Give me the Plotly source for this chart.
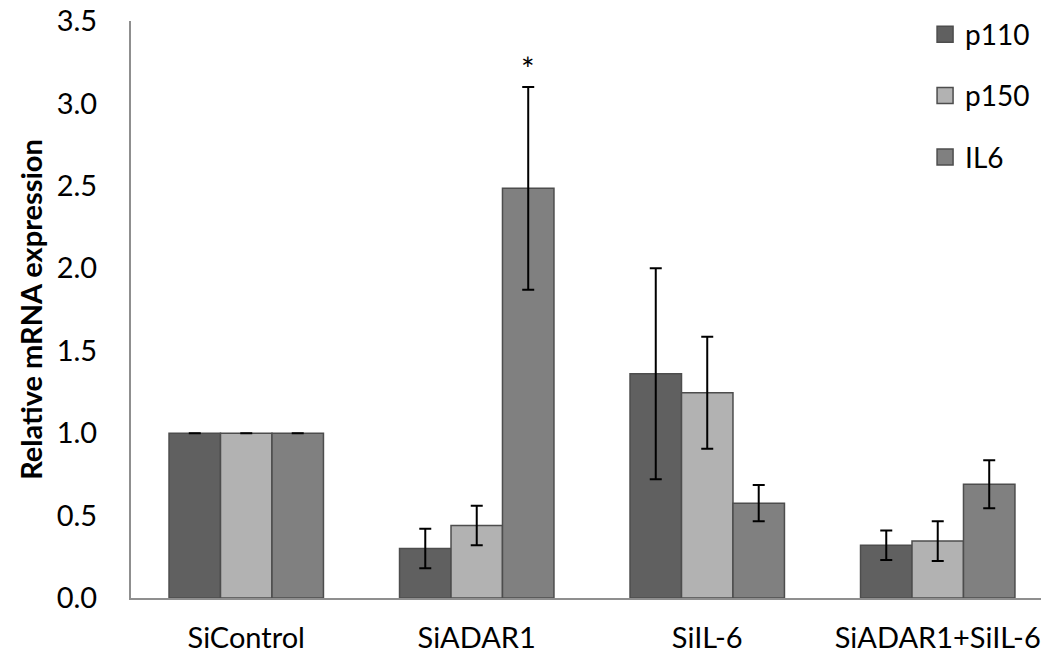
import plotly.graph_objects as go

categories = ["SiControl", "SiADAR1", "SiIL-6", "SiADAR1+SiIL-6"]
series_names = ["p110", "p150", "IL6"]
p110 = [1.0, 0.30, 1.36, 0.32]
p110_err = [0.0, 0.12, 0.64, 0.09]
p150 = [1.0, 0.44, 1.245, 0.345]
p150_err = [0.0, 0.12, 0.34, 0.12]
il6 = [1.0, 2.485, 0.575, 0.69]
il6_err = [0.0, 0.615, 0.11, 0.145]
y_ticks = [0.0, 0.5, 1.0, 1.5, 2.0, 2.5, 3.0, 3.5]

colors = ["#606060", "#b2b2b2", "#808080"]
edge = "#4d4d4d"
FONT = "Lato"
bargap = 0.33

fig = go.Figure()
for i, (name, vals, errs) in enumerate(zip(series_names, [p110, p150, il6], [p110_err, p150_err, il6_err])):
    fig.add_trace(go.Bar(
        x=categories, y=vals, name=name, legendgroup=name, showlegend=False,
        marker=dict(color=colors[i], line=dict(color=edge, width=1.5)),
        error_y=dict(type="data", array=errs, visible=True, color="black", thickness=2, width=6),
    ))
    # legend entry with a larger square swatch
    fig.add_trace(go.Scatter(
        x=[None], y=[None], mode="markers", name=name, legendgroup=name, showlegend=True,
        marker=dict(symbol="square", size=18, color=colors[i], line=dict(color=edge, width=1.5)),
    ))

# significance star above SiADAR1 IL6
group_w = 1 - bargap
star_x = 1 + group_w / 3
fig.add_annotation(x=star_x, y=il6[1] + il6_err[1], text="*", showarrow=False,
                   yshift=18, font=dict(family=FONT, size=32, color="black"))

fig.update_layout(
    width=1041, height=657,
    margin=dict(l=131, r=0, t=21, b=59),
    paper_bgcolor="white", plot_bgcolor="white",
    barmode="group", bargap=bargap, bargroupgap=0,
    font=dict(family=FONT, size=28, color="black"),
    legend=dict(x=0.8726, y=1.02, xanchor="left", yanchor="top", bgcolor="rgba(0,0,0,0)",
                font=dict(family=FONT, size=28), tracegroupgap=22, itemwidth=30,
                traceorder="grouped"),
    xaxis=dict(range=[-0.5, 3.448], showline=True, linecolor="#8f8f8f", linewidth=2,
               showgrid=False, ticks="", ticklabelstandoff=13, automargin=False,
               tickfont=dict(family=FONT, size=29)),
    yaxis=dict(range=[0, 3.5], tickvals=y_ticks, ticktext=[f"{v:.1f}" for v in y_ticks],
               showline=True, linecolor="#8f8f8f", linewidth=2, showgrid=False,
               ticks="", ticklabelstandoff=26, zeroline=False, automargin=False,
               tickfont=dict(family=FONT, size=29),
               title=dict(text="<b>Relative mRNA expression</b>", font=dict(family=FONT, size=29), standoff=6)),
)

fig.write_html("out.html")
